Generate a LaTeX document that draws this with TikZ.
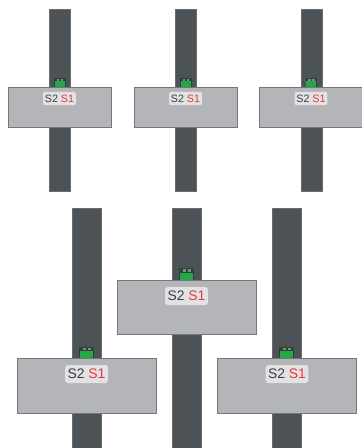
\documentclass[tikz,border=0pt]{standalone}
\usepackage{fontspec}
\setmainfont{Liberation Sans}
\usepackage{tikz}
\definecolor{railgray}{HTML}{4D5256}
\definecolor{plategray}{HTML}{B4B5B8}
\definecolor{plateedge}{HTML}{74777A}
\definecolor{clipgreen}{HTML}{22A845}
\definecolor{clipdark}{HTML}{2B4436}
\definecolor{clipwindow}{HTML}{7F8C85}
\definecolor{tagfill}{HTML}{E2E2E4}
\definecolor{textred}{HTML}{E5383B}
\definecolor{textdark}{HTML}{3A3D40}
\tikzset{
	rail/.style={fill=railgray, draw=railgray!85!white, line width=0.3pt},
	plate/.style={fill=plategray, draw=plateedge, line width=0.6pt},
	tagsmall/.style={fill=tagfill, rounded corners=1.5pt, inner sep=0pt, minimum width=24.5pt, minimum height=10pt, font=\fontsize{8}{9}\selectfont, text=textdark},
	tagbig/.style={fill=tagfill, rounded corners=2pt, inner sep=0pt, minimum width=32pt, minimum height=13.5pt, font=\fontsize{10.4}{12}\selectfont, text=textdark}
}
% left x, top y, right x, bottom y
\def\greenclip(#1:#2:#3:#4){
	\fill[clipdark] (#1, #2) rectangle (#3, #4);
	\fill[clipgreen] ({#1+0.07*(#3-#1)}, {#2+0.36*(#4-#2)}) rectangle ({#3-0.07*(#3-#1)}, #4);
	\fill[clipwindow] ({#1+0.24*(#3-#1)}, {#2+0.08*(#4-#2)}) rectangle ({#1+0.46*(#3-#1)}, {#2+0.28*(#4-#2)});
	\fill[clipwindow] ({#1+0.58*(#3-#1)}, {#2+0.08*(#4-#2)}) rectangle ({#1+0.80*(#3-#1)}, {#2+0.28*(#4-#2)});
}

\begin{document}
\begin{tikzpicture}[x=0.75pt, y=-0.75pt]
	\useasboundingbox (0, 0) rectangle (361, 448);
	
	%%%%% TOP ROW %%%%%
	\draw[rail] (49, 9) rectangle (70, 191);
	\greenclip(54:78:65.5:87);
	\draw[plate] (8, 87) rectangle (111, 127);
	\node[tagsmall] (tagA) at (59.5, 98.5) {S2 \textcolor{textred}{S1}};
	
	\draw[rail] (175, 9) rectangle (196, 191);
	\greenclip(180:78:191.5:87);
	\draw[plate] (134, 87) rectangle (237, 127);
	\node[tagsmall] (tagB) at (185.5, 98.5) {S2 \textcolor{textred}{S1}};
	
	\draw[rail] (301, 9) rectangle (322, 191);
	\greenclip(305.5:78:317:87);
	\draw[plate] (259, 87) rectangle (363, 127);
	\node[tagsmall] (tagC) at (311, 98.5) {S2 \textcolor{textred}{S1}};
	
	%%%%% BOTTOM ROW %%%%%
	\draw[rail] (72, 208) rectangle (101, 449);
	\greenclip(79:347:94:358.5);
	\draw[plate] (17, 358.5) rectangle (156, 413);
	\node[tagbig] (tagD) at (86.5, 374) {S2 \textcolor{textred}{S1}};
	
	\draw[rail] (172, 208) rectangle (201, 449);
	\greenclip(179:268:194:280.5);
	\draw[plate] (117, 280.5) rectangle (256, 334.5);
	\node[tagbig] (tagE) at (186.5, 296) {S2 \textcolor{textred}{S1}};
	
	\draw[rail] (272, 208) rectangle (301, 449);
	\greenclip(279:347:294:358.5);
	\draw[plate] (217, 358.5) rectangle (356, 413);
	\node[tagbig] (tagF) at (287, 374) {S2 \textcolor{textred}{S1}};
\end{tikzpicture}
\end{document}
